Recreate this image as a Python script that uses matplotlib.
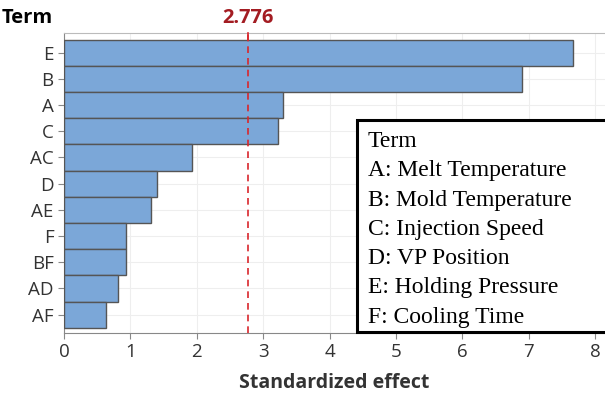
import matplotlib.pyplot as plt
from matplotlib.patches import Rectangle

terms = ['E', 'B', 'A', 'C', 'AC', 'D', 'AE', 'F', 'BF', 'AD', 'AF']
effects = [7.67, 6.90, 3.30, 3.22, 1.93, 1.40, 1.31, 0.94, 0.93, 0.81, 0.63]
critical = 2.776
legend_lines = ['Term', 'A: Melt Temperature', 'B: Mold Temperature',
                'C: Injection Speed', 'D: VP Position',
                'E: Holding Pressure', 'F: Cooling Time']

plt.rcParams['font.family'] = 'Open Sans'

fig = plt.figure(figsize=(6.05, 3.96), dpi=100)
ax = fig.add_axes([64/605, 1-333/396, 541/605, 300/396])

pos = list(range(len(terms)))[::-1]
ax.barh(pos, effects, height=1.0, color='#7ba7d8', edgecolor='#555555',
        linewidth=1.0, zorder=3)
ax.axvline(critical, color='#d9262c', ls=(0, (4, 3)), lw=1.2, zorder=4)

ax.set_xlim(0, 8.15)
ax.set_ylim(-0.7, 10.75)
ax.set_yticks(pos)
ax.set_yticklabels(terms)
ax.set_xticks(range(0, 9))
ax.tick_params(axis='both', colors='#888888', labelcolor='#333333',
               labelsize=13.5, length=4)
ax.tick_params(axis='x', pad=3)
ax.grid(True, color='#eeeeee', lw=0.8, zorder=0)

for side in ['left', 'bottom']:
    ax.spines[side].set_color('#888888')
ax.spines['top'].set_color('#bbbbbb')
ax.spines['right'].set_visible(False)

# red mark on the top edge with the critical value
ax.plot([critical, critical], [10.75, 10.5], color='#d9262c', lw=1.2,
        clip_on=False, zorder=5)
ax.text(critical, 10.95, '%.3f' % critical, color='#a31c22', fontsize=14.5,
        ha='center', va='bottom', fontweight='bold')

ax.set_xlabel('Standardized effect', fontsize=14, fontweight='bold',
              color='#333333', labelpad=9)
fig.text(2/605, 1-18/396, 'Term', fontsize=14.5, fontweight='bold',
         ha='left', va='center')

# legend box with the factor names
fig.patches.append(Rectangle((357/605, 1-332/396), 260/605, 212/396,
                             transform=fig.transFigure, facecolor='white',
                             edgecolor='black', lw=2.2, zorder=10))
for i, line in enumerate(legend_lines):
    fig.text(368/605, 1-(147 + 29.3*i)/396, line, family='Liberation Serif',
             fontsize=17, ha='left', va='baseline', zorder=11)

fig.savefig('out.png', dpi=100)
